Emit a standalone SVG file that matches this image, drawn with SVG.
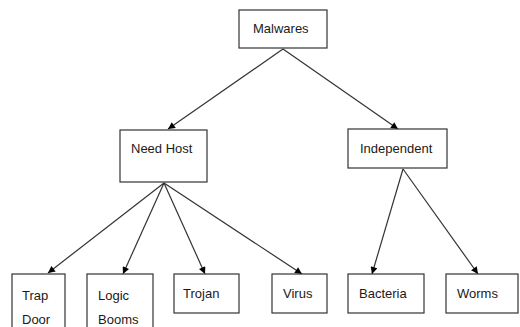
<svg xmlns="http://www.w3.org/2000/svg" width="520" height="327" viewBox="0 0 520 327">
<style>
.box{fill:#fff;stroke:#333;stroke-width:1.2}
.t{font-family:"Liberation Sans",Arial,sans-serif;font-size:13px;fill:#1a1a1a}
.c{stroke:#333;stroke-width:1.2;fill:none;marker-end:url(#ah)}
</style>
<defs>
<marker id="ah" viewBox="0 0 10 10" refX="10" refY="5" markerWidth="8" markerHeight="7" markerUnits="userSpaceOnUse" orient="auto">
<path d="M0,0 L10,5 L0,10 z" fill="#000"/>
</marker>
</defs>
<rect width="520" height="327" fill="#fff"/>
<g id="connectors">
<line class="c" x1="283" y1="49" x2="168" y2="129"/>
<line class="c" x1="283" y1="49" x2="398" y2="129"/>
<line class="c" x1="164" y1="183" x2="48" y2="273"/>
<line class="c" x1="164" y1="183" x2="123" y2="274"/>
<line class="c" x1="164" y1="183" x2="205" y2="274"/>
<line class="c" x1="164" y1="183" x2="302" y2="274"/>
<line class="c" x1="403" y1="169" x2="372" y2="274"/>
<line class="c" x1="403" y1="169" x2="478" y2="274"/>
</g>
<g id="malwares"><rect class="box" x="239" y="10" width="88" height="38"/><text class="t" x="253" y="33">Malwares</text></g>
<g id="needhost"><rect class="box" x="120" y="130" width="87" height="52"/><text class="t" x="131" y="153">Need Host</text></g>
<g id="independent"><rect class="box" x="348" y="129" width="99" height="39"/><text class="t" x="360" y="153">Independent</text></g>
<g id="trapdoor"><rect class="box" x="12" y="274" width="53" height="60"/><text class="t" x="22" y="300">Trap</text><text class="t" x="22" y="324">Door</text></g>
<g id="logicbooms"><rect class="box" x="87" y="274" width="66" height="60"/><text class="t" x="98" y="300">Logic</text><text class="t" x="98" y="324">Booms</text></g>
<g id="trojan"><rect class="box" x="174" y="274" width="65" height="39"/><text class="t" x="183" y="298">Trojan</text></g>
<g id="virus"><rect class="box" x="272" y="274" width="55" height="39"/><text class="t" x="283" y="298">Virus</text></g>
<g id="bacteria"><rect class="box" x="348" y="274" width="76" height="39"/><text class="t" x="359" y="298">Bacteria</text></g>
<g id="worms"><rect class="box" x="446" y="274" width="72" height="39"/><text class="t" x="457" y="298">Worms</text></g>
</svg>
